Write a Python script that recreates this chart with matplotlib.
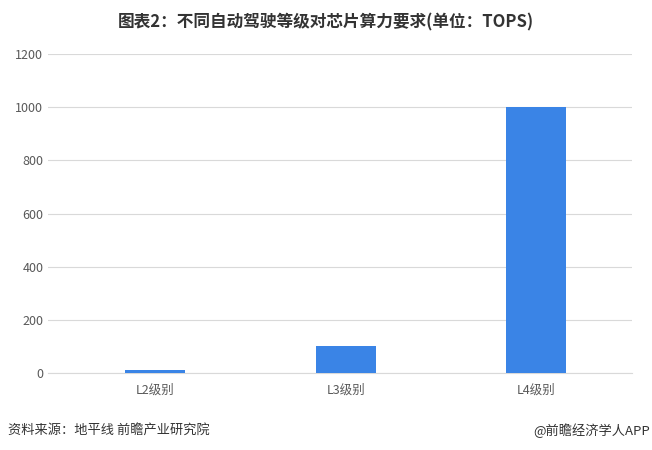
import numpy as np
import matplotlib.pyplot as plt

plt.rcParams['font.family'] = ['Noto Sans CJK SC', 'DejaVu Sans']

categories = ['L2级别', 'L3级别', 'L4级别']
tops = [10, 100, 1000]
yticks = [0, 200, 400, 600, 800, 1000, 1200]

fig = plt.figure(figsize=(6.52, 4.5), dpi=100)
ax = fig.add_axes([0.074, 0.171, 0.895, 0.709])

x = np.arange(len(categories))
ax.bar(x, tops, width=0.315, color='#3a84e6', zorder=3)

ax.set_xlim(-0.56, 2.5)
ax.set_ylim(0, 1200)
ax.set_yticks(yticks)
ax.set_xticks(x)
ax.set_xticklabels(categories)
ax.grid(axis='y', color='#d9d9d9', linewidth=0.8, zorder=0)
for s in ['top', 'left', 'right']:
    ax.spines[s].set_visible(False)
ax.spines['bottom'].set_color('#d9d9d9')
ax.tick_params(axis='both', length=0, labelsize=9, colors='#595959')
ax.tick_params(axis='x', pad=8)

# titre et sources
fig.text(0.5, 0.951, '图表2：不同自动驾驶等级对芯片算力要求(单位：TOPS)',
         ha='center', va='center', fontsize=12, fontweight='bold', color='#333333')
fig.text(0.012, 0.044, '资料来源：地平线 前瞻产业研究院',
         ha='left', va='center', fontsize=9.5, color='#333333')
fig.text(0.997, 0.044, '@前瞻经济学人APP',
         ha='right', va='center', fontsize=9.5, color='#333333')

fig.savefig('out.png', dpi=100)
